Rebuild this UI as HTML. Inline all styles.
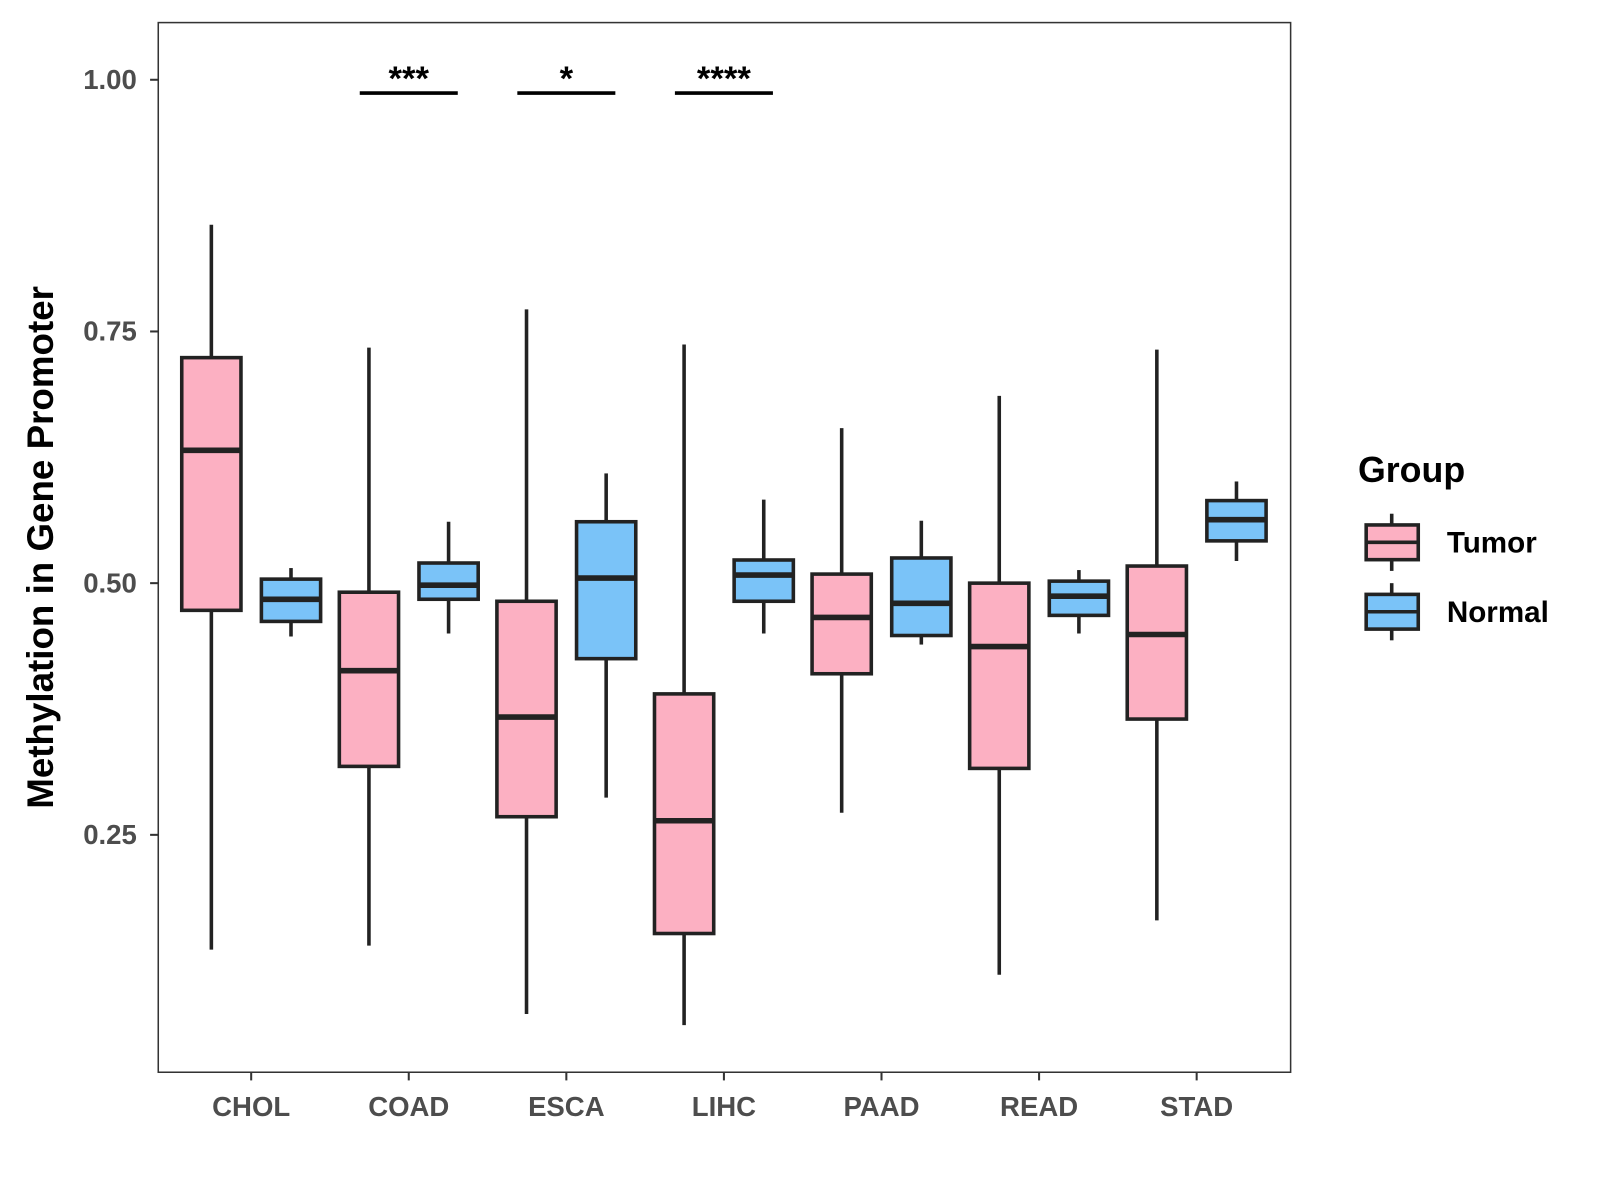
<!DOCTYPE html>
<html><head><meta charset="utf-8"><style>
html,body{margin:0;padding:0;background:#fff;width:1600px;height:1200px;overflow:hidden}
text{font-family:"Liberation Sans",Arial,sans-serif}
</style></head><body>
<svg id="chart" width="1600" height="1200" viewBox="0 0 1567 1175" xmlns="http://www.w3.org/2000/svg"></svg>
<script>
const categories = ["CHOL","COAD","ESCA","LIHC","PAAD","READ","STAD"];
// [low, q1, median, q3, high]
const tumorStats = [
  [0.136,0.473,0.632,0.724,0.856],
  [0.140,0.318,0.413,0.491,0.734],
  [0.072,0.268,0.367,0.482,0.772],
  [0.061,0.152,0.264,0.390,0.737],
  [0.272,0.410,0.466,0.509,0.654],
  [0.111,0.316,0.437,0.500,0.686],
  [0.165,0.365,0.449,0.517,0.732]
];
const normalStats = [
  [0.447,0.462,0.484,0.504,0.515],
  [0.450,0.484,0.498,0.520,0.561],
  [0.287,0.425,0.505,0.561,0.609],
  [0.450,0.482,0.508,0.523,0.583],
  [0.439,0.448,0.480,0.525,0.562],
  [0.450,0.468,0.487,0.502,0.513],
  [0.522,0.542,0.563,0.582,0.601]
];
const yTicks = [0.25,0.50,0.75,1.00];
const yTickLabels = ["0.25","0.50","0.75","1.00"];
const sigCategories = ["COAD","ESCA","LIHC"];
const sigLabels = ["***","*","****"];

const svg = document.getElementById('chart');
const NS = "http://www.w3.org/2000/svg";
const x0 = 246, xStep = 154.33;
function xScale(i){ return x0 + i*xStep; }
function yScale(v){ return 571 - (v-0.5)*986; }
function el(tag, attrs, parent){
  const e = document.createElementNS(NS, tag);
  for (const k in attrs) e.setAttribute(k, attrs[k]);
  (parent||svg).appendChild(e);
  return e;
}
const panel = el('rect',{x:155,y:22,width:1109,height:1028,fill:'none',stroke:'#333','stroke-width':1.5});



yTicks.forEach((t,i)=>{
  const y = yScale(t);
  const tk = el('line',{x1:147,x2:155,y1:y,y2:y,stroke:'#333','stroke-width':2});
  
  
  const lb = el('text',{x:134,y:y+9,'text-anchor':'end','font-size':27,'font-weight':'bold',fill:'#4d4d4d'});
  lb.textContent = yTickLabels[i];
  
  
});
categories.forEach((c,i)=>{
  const x = xScale(i);
  const tk = el('line',{x1:x,x2:x,y1:1050,y2:1058,stroke:'#333','stroke-width':2});
  
  
  const lb = el('text',{x:x,y:1093,'text-anchor':'middle','font-size':27,'font-weight':'bold',fill:'#4d4d4d'});
  lb.textContent = c;
  
  
});
const yt = el('text',{x:0,y:0,transform:'translate(52,536) rotate(-90)','text-anchor':'middle','font-size':36,'font-weight':'bold',fill:'#000'});
yt.textContent = 'Methylation in Gene Promoter';



function drawBox(cx, s, fill, name){
  const g = el('g',{});
  
  
  const hw = 29;
  el('line',{x1:cx,x2:cx,y1:yScale(s[4]),y2:yScale(s[3]),stroke:'#222','stroke-width':3.5},g);
  el('line',{x1:cx,x2:cx,y1:yScale(s[1]),y2:yScale(s[0]),stroke:'#222','stroke-width':3.5},g);
  el('rect',{x:cx-hw,y:yScale(s[3]),width:2*hw,height:yScale(s[1])-yScale(s[3]),fill:fill,stroke:'#222','stroke-width':3.5},g);
  el('line',{x1:cx-hw,x2:cx+hw,y1:yScale(s[2]),y2:yScale(s[2]),stroke:'#222','stroke-width':5.5},g);
}
categories.forEach((c,i)=>{
  drawBox(xScale(i)-39, tumorStats[i], '#FCB0C2', 'box-tumor-'+c.toLowerCase());
  drawBox(xScale(i)+39, normalStats[i], '#7AC3F8', 'box-normal-'+c.toLowerCase());
});
sigCategories.forEach((c,k)=>{
  const x = xScale(categories.indexOf(c));
  const ln = el('line',{x1:x-48,x2:x+48,y1:91,y2:91,stroke:'#000','stroke-width':3.5});
  
  
  const t = el('text',{x:x,y:88,'text-anchor':'middle','font-size':34,'font-weight':'bold',fill:'#000'});
  t.textContent = sigLabels[k];
  
  
});
const lt = el('text',{x:1330,y:472,'font-size':35,'font-weight':'bold',fill:'#000'});
lt.textContent='Group';


[['Tumor','#FCB0C2',531],['Normal','#7AC3F8',599]].forEach(([n,f,cy])=>{
  const g = el('g',{});
  
  
  el('line',{x1:1363,x2:1363,y1:cy-28,y2:cy+28,stroke:'#222','stroke-width':3.5},g);
  el('rect',{x:1338,y:cy-17,width:51,height:34,fill:f,stroke:'#222','stroke-width':3.5},g);
  el('line',{x1:1338,x2:1389,y1:cy,y2:cy,stroke:'#222','stroke-width':3.5},g);
  const t = el('text',{x:1417,y:cy+10,'font-size':29,'font-weight':'bold',fill:'#000'},g);
  t.textContent = n;
});
</script>
</body></html>
